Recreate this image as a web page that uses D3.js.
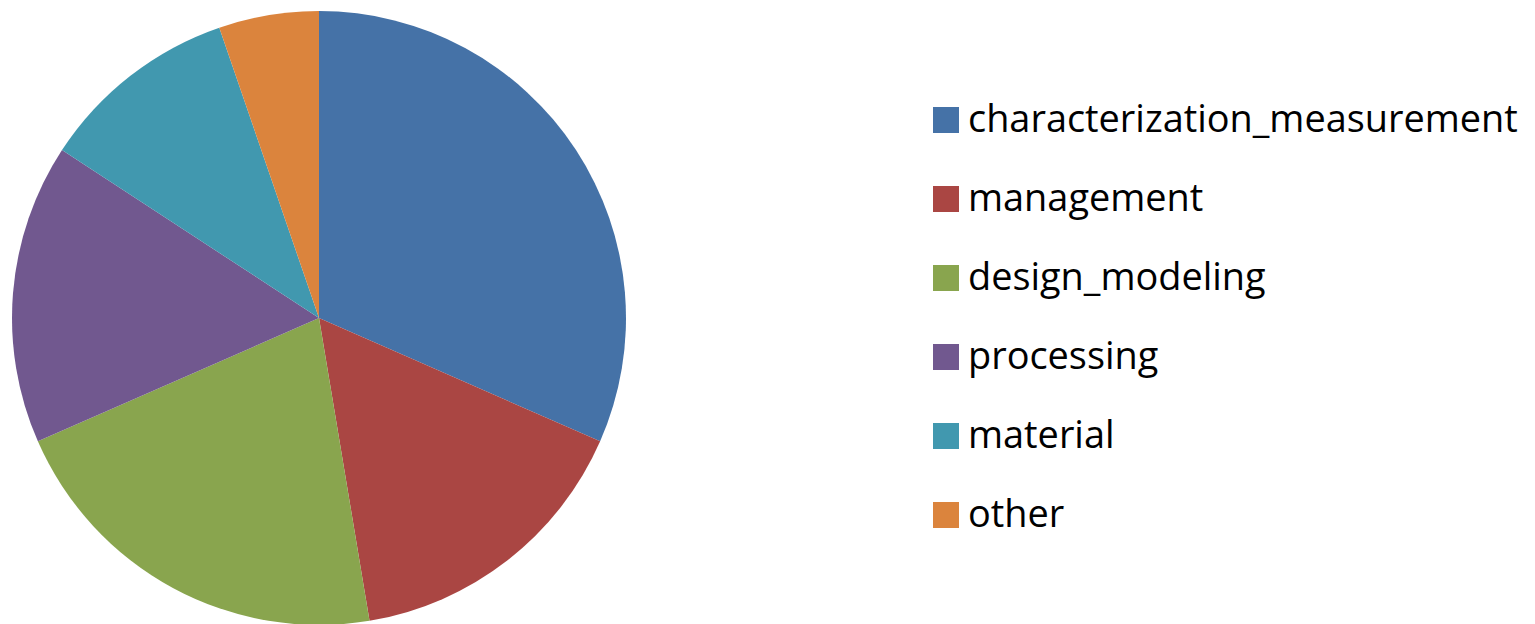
<!DOCTYPE html>
<html>
<head>
<meta charset="utf-8">
<script src="https://cdn.jsdelivr.net/npm/d3@7"></script>
<style>
  html, body { margin: 0; padding: 0; background: #fff; }
  svg { display: block; }
</style>
</head>
<body>
<svg id="chart" width="1535" height="624"></svg>
<script>
// Topic counts, drawn clockwise from 12 o'clock
const categories = ["characterization_measurement", "management", "design_modeling", "processing", "material", "other"];
const counts = [6, 3, 4, 3, 2, 1];
const colors = ["#4572A7", "#AA4643", "#89A54E", "#71588F", "#4198AF", "#DB843D"];

const svg = d3.select("#chart");

const cx = 319, cy = 318, radius = 307;

const pie = d3.pie().sort(null).value(d => d.value);
const arc = d3.arc().innerRadius(0).outerRadius(radius);
const color = d3.scaleOrdinal().domain(categories).range(colors);

const data = categories.map((c, i) => ({ name: c, value: counts[i] }));

svg.append("g")
  .attr("transform", `translate(${cx},${cy})`)
  .selectAll("path")
  .data(pie(data))
  .join("path")
  .attr("d", arc)
  .attr("fill", d => color(d.data.name));

// Legend
const legendX = 933, legendY0 = 120, rowGap = 79, sw = 26;
const legend = svg.append("g").attr("font-family", "'Open Sans', 'Noto Sans', sans-serif");

const rows = legend.selectAll("g")
  .data(categories)
  .join("g")
  .attr("transform", (d, i) => `translate(${legendX},${legendY0 + i * rowGap})`);

rows.append("rect")
  .attr("x", 0).attr("y", -sw / 2)
  .attr("width", sw).attr("height", sw)
  .attr("fill", d => color(d));

const labels = rows.append("text")
  .attr("x", 35)
  .attr("y", 12)
  .attr("fill", "#000")
  .attr("font-size", 36)
  .text(d => d);

// Size the type so the longest label spans the legend column
const longest = labels.filter((d, i) => i === 0).node();
const w = longest.getComputedTextLength();
const fs = 36 * 550 / w;
labels.attr("font-size", fs);
</script>
</body>
</html>
